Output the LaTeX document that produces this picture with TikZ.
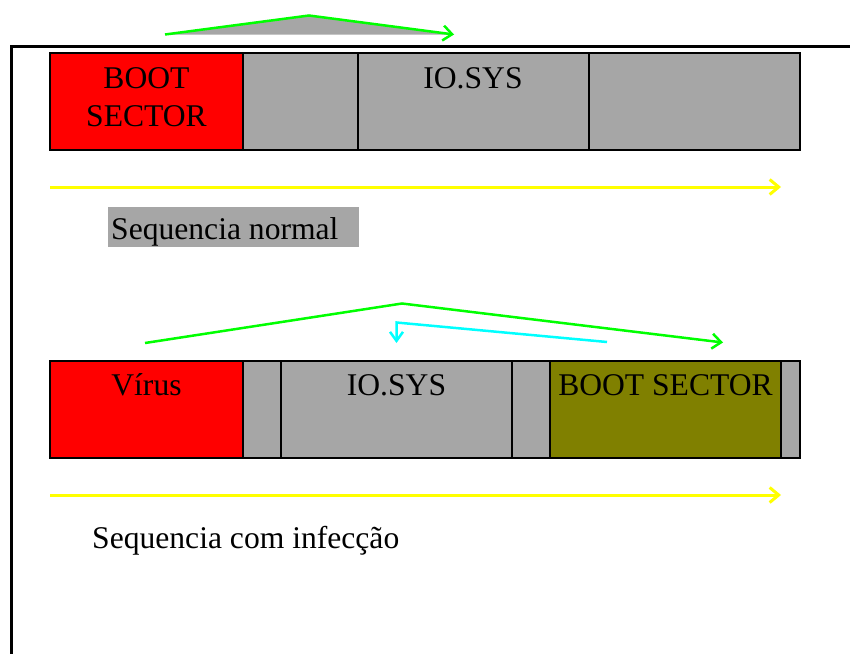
\documentclass[tikz,border=0pt]{standalone}
\usepackage{fontspec}
\setmainfont{Liberation Serif}
\usetikzlibrary{arrows.meta}
\definecolor{cellgray}{RGB}{166,166,166}
\definecolor{bootred}{RGB}{255,0,0}
\definecolor{bootolive}{RGB}{128,128,0}
\definecolor{jumpgreen}{RGB}{0,255,0}
\definecolor{retcyan}{RGB}{0,255,255}
\definecolor{flowyellow}{RGB}{255,255,0}
\tikzset{
  cell/.style={draw=black, line width=2.5pt, fill=cellgray},
  label/.style={font=\fontsize{31.6}{38}\selectfont, inner sep=0pt},
  jump/.style={draw=jumpgreen, line width=2.5pt, line join=miter, -{Straight Barb[length=9pt,width=15pt,line width=2.5pt]}},
  ret/.style={draw=retcyan, line width=2.5pt, -{Straight Barb[length=9pt,width=13pt,line width=2.5pt]}},
  flow/.style={draw=flowyellow, line width=3pt, -{Straight Barb[length=9pt,width=15pt,line width=3pt]}},
  frameline/.style={draw=black, line width=2.5pt}
}
\begin{document}
\begin{tikzpicture}[x=1pt,y=-1pt]
\useasboundingbox (0,0) rectangle (850,653);

% open frame: top edge and left edge
\coordinate (ftl) at (11.5,46.5);
\coordinate (ftr) at (851,46.5);
\coordinate (fbl) at (11.5,654);
\draw[frameline] (ftr) -- (ftl) -- (fbl);

% ---------- normal sequence ----------
% jump over the first clusters (with grey shading)
\coordinate (j1a) at (165,34.5);
\coordinate (j1b) at (309,15.5);
\coordinate (j1c) at (454,34.5);
\fill[cellgray] (j1a) -- (j1b) -- (j1c) -- cycle;
\draw[jump] (j1a) -- (j1b) -- (j1c);

% disk strip
\draw[cell, fill=bootred] (50,53) rectangle (243,150);
\draw[cell] (243,53) rectangle (358,150);
\draw[cell] (358,53) rectangle (589,150);
\draw[cell] (589,53) rectangle (800,150);
\node[label, anchor=base] (boot1) at (146.5,88) {BOOT};
\node[label, anchor=base] (sect1) at (146.5,126) {SECTOR};
\node[label, anchor=base] (io1) at (473,88) {IO.SYS};

% read direction
\coordinate (y1a) at (50,187);
\coordinate (y1b) at (781,187);
\draw[flow] (y1a) -- (y1b);

% caption on grey band
\fill[cellgray] (107.5,207) rectangle (359,246.5);
\node[label, anchor=base west] (cap1) at (111,239) {Sequencia normal};

% ---------- infected sequence ----------
\coordinate (j2a) at (145,343);
\coordinate (j2b) at (402,303.5);
\coordinate (j2c) at (723,342.5);
\draw[jump] (j2a) -- (j2b) -- (j2c);

\coordinate (c2a) at (607,342);
\coordinate (c2b) at (396.5,322.5);
\coordinate (c2c) at (396.5,343);
\draw[ret] (c2a) -- (c2b) -- (c2c);

\draw[cell, fill=bootred] (50,361) rectangle (243,458);
\draw[cell] (243,361) rectangle (281,458);
\draw[cell] (281,361) rectangle (512,458);
\draw[cell] (512,361) rectangle (550,458);
\draw[cell, fill=bootolive] (550,361) rectangle (781,458);
\draw[cell] (781,361) rectangle (800,458);
\node[label, anchor=base] (vir) at (146.5,395) {Vírus};
\node[label, anchor=base] (io2) at (396.5,395) {IO.SYS};
\node[label, anchor=base] (boot2) at (665.5,395) {BOOT SECTOR};

\coordinate (y2a) at (50,495);
\coordinate (y2b) at (781,495);
\draw[flow] (y2a) -- (y2b);

\node[label, anchor=base west] (cap2) at (92,548) {Sequencia com infecção};
\end{tikzpicture}
\end{document}
